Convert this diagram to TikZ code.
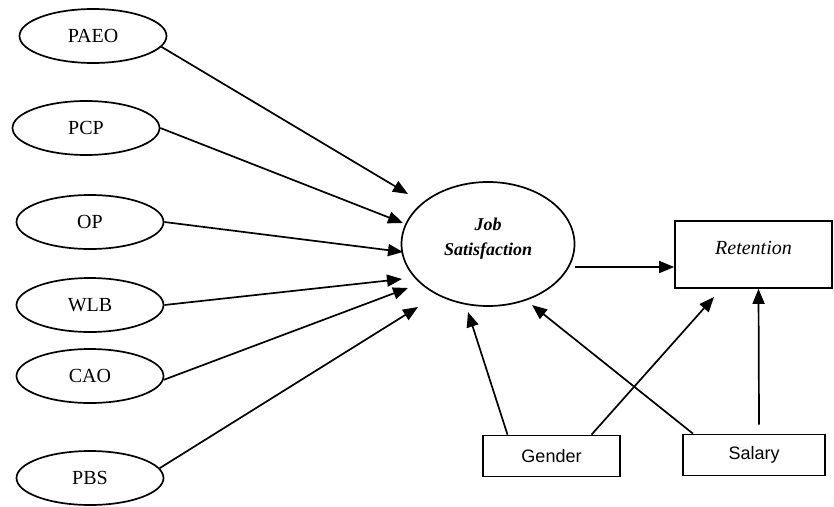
\documentclass[tikz,border=0pt]{standalone}
\usepackage{fontspec}
\setmainfont{Liberation Serif}
\setsansfont{Liberation Sans}
\usetikzlibrary{shapes.geometric, arrows.meta}
\tikzstyle{factor} = [ellipse, draw, line width=1.7pt, minimum width=147pt, minimum height=54pt, inner sep=0pt, font=\fontsize{20}{24}\selectfont]
\tikzstyle{mediator} = [ellipse, draw, line width=1.7pt, minimum width=173pt, minimum height=124pt, inner sep=0pt, align=center, text depth=14pt, font=\fontsize{18}{25}\selectfont\bfseries\itshape]
\tikzstyle{outcome} = [rectangle, draw, line width=1.7pt, minimum width=157pt, minimum height=67pt, text depth=14pt, font=\fontsize{20}{24}\selectfont\itshape]
\tikzstyle{control} = [rectangle, draw, line width=1.7pt, minimum height=41pt, font=\sffamily\fontsize{18}{22}\selectfont]
\tikzstyle{arrow} = [line width=1.7pt, -{Triangle[length=15pt,width=12pt]}]

\begin{document}
\begin{tikzpicture}[x=1pt, y=-1pt]
    \useasboundingbox (0,0) rectangle (834,506);
    \node [factor] at (93,36) (paeo) {PAEO};
    \node [factor] at (86,128) (pcp) {PCP};
    \node [factor] at (90,222) (op) {OP};
    \node [factor] at (90,305) (wlb) {WLB};
    \node [factor] at (90,376) (cao) {CAO};
    \node [factor] at (90,478) (pbs) {PBS};
    \node [mediator] at (488,244) (js) {Job\\Satisfaction};
    \node [outcome] at (753.5,254.5) (ret) {Retention};
    \node [control, minimum width=137pt] at (551.5,456) (gender) {Gender};
    \node [control, minimum width=142pt] at (754,455) (salary) {Salary};
    % free ends of the arrows
    \coordinate (t1) at (408,194);
    \coordinate (t2) at (403,223);
    \coordinate (t3) at (403,252);
    \coordinate (t4) at (402,279);
    \coordinate (t5) at (408,288);
    \coordinate (t6) at (418,307);
    \coordinate (g1) at (468,312);
    \coordinate (g2) at (714,297);
    \coordinate (s1) at (532,305);
    \draw [arrow] (paeo.-9) -- (t1);
    \draw [arrow] (pcp.east) -- (t2);
    \draw [arrow] (op.east) -- (t3);
    \draw [arrow] (wlb.east) -- (t4);
    \draw [arrow] (cao.-3) -- (t5);
    \draw [arrow] (pbs.8) -- (t6);
    \draw [arrow] ([yshift=-23pt]js.east) -- ([yshift=-23pt]js.east -| ret.west);
    \draw [arrow] ([xshift=-44pt]gender.north) -- (g1);
    \draw [arrow] ([xshift=40pt]gender.north) -- (g2);
    \draw [arrow] ([xshift=-61pt]salary.north) -- (s1);
    \draw [arrow] ([shift={(5pt,9pt)}]salary.north) -- ([xshift=5pt]ret.south);
\end{tikzpicture}
\end{document}
